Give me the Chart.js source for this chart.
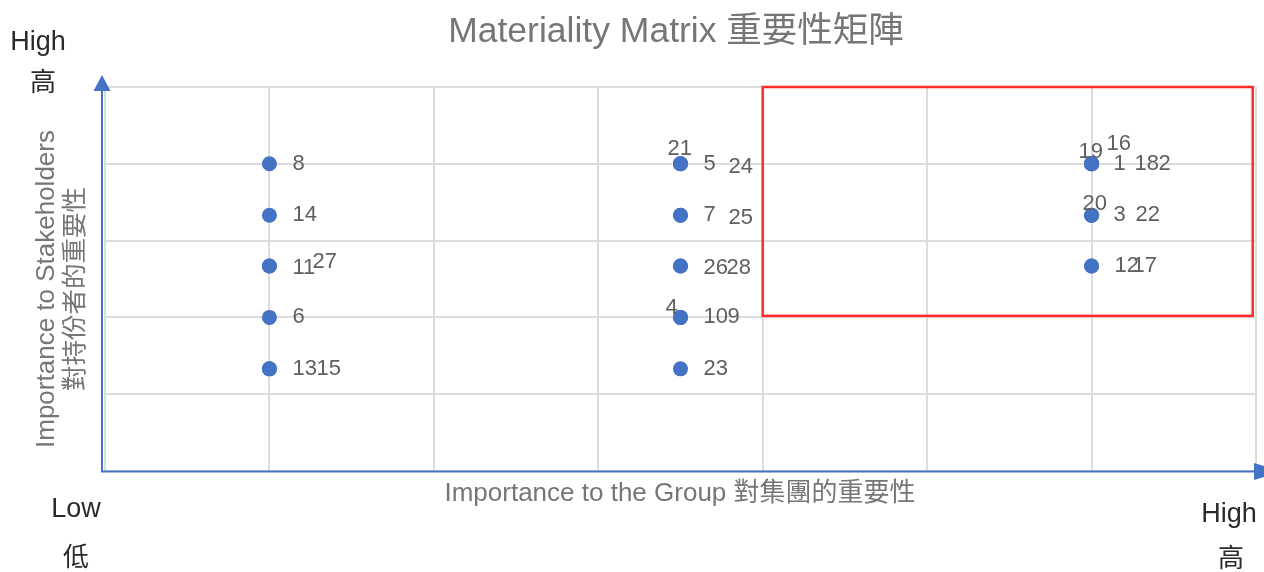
<!DOCTYPE html>
<html>
<head>
<meta charset="utf-8">
<script src="https://cdn.jsdelivr.net/npm/chart.js@4.4.1/dist/chart.umd.min.js"></script>
<style>
html,body{margin:0;padding:0;background:#ffffff;}
#wrap{width:1264px;height:572px;position:relative;}
</style>
</head>
<body>
<div id="wrap"><canvas id="c" width="1264" height="572"></canvas></div>
<script>
// ---- Data ----
const issueLabels = ['1','2','3','4','5','6','7','8','9','10','11','12','13','14','15','16','17','18','19','20','21','22','23','24','25','26','27','28'];
const groupImportance = [6, 6, 6, 3.5, 3.5, 1, 3.5, 1, 3.5, 3.5, 1, 6, 1, 1, 1, 6, 6, 6, 6, 6, 3.5, 6, 3.5, 3.5, 3.5, 3.5, 1, 3.5];
const stakeholderImportance = [4, 4, 3.33, 2, 4, 2, 3.33, 4, 2, 2, 2.67, 2.67, 1.33, 3.33, 1.33, 4, 2.67, 4, 4, 3.33, 4, 3.33, 1.33, 4, 3.33, 2.67, 2.67, 2.67];
// label nudges (pixels) to mimic the hand-placed data labels
const labelNudgeX = [22, 67, 22, -15, 23, 23, 23, 23, 47, 23, 23, 23, 23, 23, 47, 15, 41, 43, -13, -9, -13, 44, 23, 48, 48, 23, 43, 46];
const labelNudgeY = [0, 0, 0, -9, 0, 0, 0, 0, 0, 0, 2, 0, 0, 0, 0, -20, 0, 0, -12, -11, -15, 0, 0, 3, 3, 2, -4, 2];
const focusZone = { xMin: 4, xMax: 6.98, yMin: 2.02, yMax: 5 };
const axisRangeX = [0, 7];
const axisRangeY = [0, 5];
const chartTitle = 'Materiality Matrix 重要性矩陣';
const xAxisTitle = 'Importance to the Group 對集團的重要性';
const yAxisTitle = ['Importance to Stakeholders', '對持份者的重要性'];
const cornerTexts = { topHigh: ['High', '高'], low: ['Low', '低'], rightHigh: ['High', '高'] };

const FONT = '"Liberation Sans", "Noto Sans CJK TC", sans-serif';
const BLUE = '#4472c4';

const decor = {
  id: 'decor',
  beforeDatasetsDraw(chart) {
    const ctx = chart.ctx;
    const xs = chart.scales.x, ys = chart.scales.y;
    ctx.save();
    // red highlight box
    ctx.strokeStyle = '#ff2b2b';
    ctx.lineWidth = 2.5;
    const x0 = xs.getPixelForValue(focusZone.xMin), x1 = xs.getPixelForValue(focusZone.xMax);
    const y0 = ys.getPixelForValue(focusZone.yMax), y1 = ys.getPixelForValue(focusZone.yMin);
    ctx.strokeRect(x0, y0, x1 - x0, y1 - y0);
    // blue arrow axes
    const ax = chart.chartArea.left - 3, ay = chart.chartArea.bottom + 0.5;
    ctx.strokeStyle = BLUE; ctx.fillStyle = BLUE; ctx.lineWidth = 2;
    ctx.beginPath();
    ctx.moveTo(ax, ay + 1); ctx.lineTo(ax, chart.chartArea.top + 2);
    ctx.moveTo(ax - 1, ay); ctx.lineTo(chart.chartArea.right, ay);
    ctx.stroke();
    // arrow heads
    ctx.beginPath();
    ctx.moveTo(ax, chart.chartArea.top - 12);
    ctx.lineTo(ax - 8.5, chart.chartArea.top + 4);
    ctx.lineTo(ax + 8.5, chart.chartArea.top + 4);
    ctx.closePath(); ctx.fill();
    ctx.beginPath();
    ctx.moveTo(chart.chartArea.right + 26, ay);
    ctx.lineTo(chart.chartArea.right - 2, ay - 8.5);
    ctx.lineTo(chart.chartArea.right - 2, ay + 8.5);
    ctx.closePath(); ctx.fill();
    ctx.restore();
  },
  afterDatasetsDraw(chart) {
    const ctx = chart.ctx;
    const meta = chart.getDatasetMeta(0);
    ctx.save();
    ctx.font = '22px ' + FONT;
    ctx.fillStyle = '#5f5f5f';
    ctx.textAlign = 'left';
    ctx.textBaseline = 'middle';
    meta.data.forEach((pt, i) => {
      ctx.fillText(issueLabels[i], pt.x + labelNudgeX[i], pt.y + labelNudgeY[i]);
    });
    ctx.restore();
  },
  afterDraw(chart) {
    const ctx = chart.ctx;
    ctx.save();
    // title
    ctx.fillStyle = '#767676';
    ctx.textAlign = 'center';
    ctx.textBaseline = 'alphabetic';
    ctx.font = '35.5px ' + FONT;
    ctx.fillText(chartTitle, 676, 42);
    // x axis title
    ctx.font = '26px ' + FONT;
    ctx.fillText(xAxisTitle, 680, 501);
    // y axis title
    ctx.save();
    ctx.translate(47, 289);
    ctx.rotate(-Math.PI / 2);
    ctx.textBaseline = 'middle';
    ctx.font = '26px ' + FONT;
    ctx.fillText(yAxisTitle[0], 0, 0);
    ctx.translate(0, 29);
    ctx.font = '25.5px ' + FONT;
    ctx.fillText(yAxisTitle[1], 0, 0);
    ctx.restore();
    // corner labels
    ctx.fillStyle = '#2a2a2a';
    ctx.font = '27px ' + FONT;
    ctx.textBaseline = 'alphabetic';
    ctx.fillText(cornerTexts.topHigh[0], 38, 50);
    ctx.fillText(cornerTexts.low[0], 76, 517);
    ctx.fillText(cornerTexts.rightHigh[0], 1229, 522);
    ctx.textBaseline = 'middle';
    ctx.font = '26px ' + FONT;
    ctx.fillText(cornerTexts.topHigh[1], 43, 84);
    ctx.fillText(cornerTexts.low[1], 76, 559);
    ctx.fillText(cornerTexts.rightHigh[1], 1231, 560);
    ctx.restore();
  }
};

new Chart(document.getElementById('c'), {
  type: 'scatter',
  data: {
    datasets: [{
      label: 'Issues',
      data: groupImportance.map((gx, i) => ({ x: gx, y: stakeholderImportance[i] })),
      backgroundColor: BLUE,
      borderColor: BLUE,
      pointRadius: 7.5,
      pointHoverRadius: 7.5,
      borderWidth: 0
    }]
  },
  options: {
    responsive: false,
    animation: false,
    devicePixelRatio: 1,
    layout: { padding: { left: 105, right: 8, top: 87, bottom: 101 } },
    plugins: { legend: { display: false }, title: { display: false }, tooltip: { enabled: false } },
    scales: {
      x: {
        type: 'linear', min: axisRangeX[0], max: axisRangeX[1],
        ticks: { display: false, stepSize: 1 },
        grid: { color: '#dcdcdc', lineWidth: 2, drawTicks: false },
        border: { display: false }
      },
      y: {
        type: 'linear', min: axisRangeY[0], max: axisRangeY[1],
        ticks: { display: false, stepSize: 1 },
        grid: { color: '#dcdcdc', lineWidth: 2, drawTicks: false },
        border: { display: false }
      }
    }
  },
  plugins: [decor]
});
</script>
</body>
</html>
